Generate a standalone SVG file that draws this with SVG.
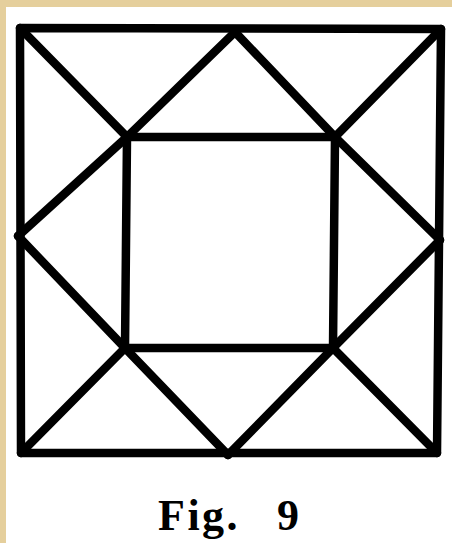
<svg xmlns="http://www.w3.org/2000/svg" width="452" height="543" viewBox="0 0 452 543">
<style>
.ln{stroke:#000;stroke-width:8.5;stroke-linecap:round;stroke-linejoin:round;fill:none}
.cap{font-family:"Liberation Serif",serif;font-weight:bold;font-size:44px;fill:#000}
</style>
<rect x="0" y="0" width="452" height="543" fill="#e5cf9c"/>
<rect x="6" y="7" width="446" height="536" fill="#fff"/>
<g id="outer-square"><path class="ln" d="M20,28 L441,29 L437,453 L21,453 Z"/></g>
<g id="inner-square"><path class="ln" d="M127,137 L335,137 L333,348 L125,348 Z"/></g>
<g id="connectors">
<path class="ln" d="M20,28 L127,137"/>
<path class="ln" d="M441,29 L335,137"/>
<path class="ln" d="M437,453 L333,348"/>
<path class="ln" d="M21,453 L125,348"/>
<path class="ln" d="M235,32 L127,137"/>
<path class="ln" d="M235,32 L335,137"/>
<path class="ln" d="M18,236 L127,137"/>
<path class="ln" d="M18,236 L125,348"/>
<path class="ln" d="M440,240 L335,137"/>
<path class="ln" d="M440,240 L333,348"/>
<path class="ln" d="M228,455 L125,348"/>
<path class="ln" d="M228,455 L333,348"/>
</g>
<g id="caption"><text class="cap" x="158" y="530" letter-spacing="2.5">Fig.</text><text class="cap" x="277" y="530">9</text></g>
</svg>
